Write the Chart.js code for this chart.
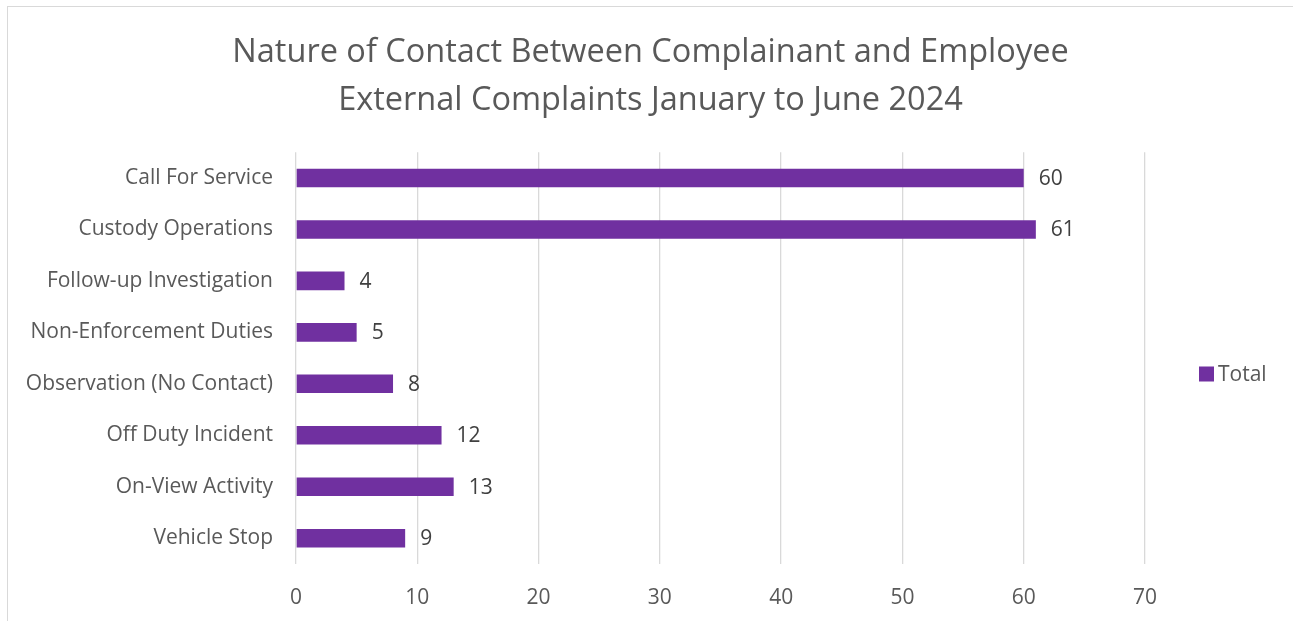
<!DOCTYPE html>
<html>
<head>
<meta charset="utf-8">
<script src="https://cdn.jsdelivr.net/npm/chart.js@4/dist/chart.umd.min.js"></script>
<style>
  html, body { margin: 0; padding: 0; background: #ffffff; overflow: hidden; }
  #wrap { position: relative; width: 1293px; height: 621px; }
  #frame { position: absolute; left: 7px; top: 6px; width: 1400px; height: 700px;
           border-left: 1px solid #d9d9d9; border-top: 1px solid #d9d9d9; box-sizing: border-box; }
  canvas { position: absolute; left: 0; top: 0; }
</style>
</head>
<body>
<div id="wrap">
  <div id="frame"></div>
  <canvas id="c" width="1293" height="621"></canvas>
</div>
<script>
const titleLines = ["Nature of Contact Between Complainant and Employee", "External Complaints January to June 2024"];
const categories = ["Call For Service", "Custody Operations", "Follow-up Investigation", "Non-Enforcement Duties",
                    "Observation (No Contact)", "Off Duty Incident", "On-View Activity", "Vehicle Stop"];
const totals = [60, 61, 4, 5, 8, 12, 13, 9];
const seriesName = "Total";
const xTicks = [0, 10, 20, 30, 40, 50, 60, 70];

const FONT = "'Open Sans', sans-serif";
const TEXT = "#595959";
const BAR = "#7030A0";

const dataLabels = {
  id: 'dataLabels',
  afterDatasetsDraw(chart) {
    const ctx = chart.ctx;
    const meta = chart.getDatasetMeta(0);
    ctx.save();
    ctx.font = "21px " + FONT;
    ctx.fillStyle = "#404040";
    ctx.textAlign = "left";
    ctx.textBaseline = "middle";
    meta.data.forEach((bar, i) => {
      ctx.fillText(String(chart.data.datasets[0].data[i]), bar.x + 15, bar.y + 1);
    });
    ctx.restore();
  }
};

const sideLegend = {
  id: 'sideLegend',
  afterDraw(chart) {
    const ctx = chart.ctx;
    const ds = chart.data.datasets[0];
    const x = chart.chartArea.right + 54;
    const y = 374;
    ctx.save();
    ctx.fillStyle = ds.backgroundColor;
    ctx.fillRect(x, y - 7.5, 15, 15);
    ctx.font = "21px " + FONT;
    ctx.fillStyle = TEXT;
    ctx.textAlign = "left";
    ctx.textBaseline = "middle";
    ctx.fillText(ds.label, x + 19, y + 1);
    ctx.restore();
  }
};

new Chart(document.getElementById('c'), {
  type: 'bar',
  data: {
    labels: categories,
    datasets: [{
      label: seriesName,
      data: totals,
      backgroundColor: BAR,
      borderWidth: 0,
      barPercentage: 0.36,
      categoryPercentage: 1.0
    }]
  },
  options: {
    indexAxis: 'y',
    responsive: false,
    animation: false,
    events: [],
    layout: { padding: { left: 8, right: 0, top: 29, bottom: 0 } },
    plugins: {
      legend: { display: false },
      tooltip: { enabled: false },
      title: {
        display: true,
        text: titleLines,
        color: TEXT,
        font: { family: FONT, size: 32.5, weight: 'normal', lineHeight: 1.48 },
        padding: { top: 0, bottom: 27 }
      }
    },
    scales: {
      x: {
        min: 0, max: 70,
        afterBuildTicks(scale) { scale.ticks = xTicks.map(v => ({ value: v })); },
        afterFit(scale) { scale.height = 57; },
        grid: { color: "#d9d9d9", lineWidth: 1.3, drawTicks: false },
        border: { display: false },
        ticks: { color: TEXT, font: { family: FONT, size: 21 }, padding: 21 }
      },
      y: {
        afterFit(scale) { scale.width = 288; },
        grid: { display: false, drawTicks: false },
        border: { display: false },
        ticks: { color: TEXT, font: { family: FONT, size: 21 }, padding: 23 }
      },
      legendSpace: {
        type: 'category',
        position: 'right',
        axis: 'y',
        labels: categories,
        afterFit(scale) { scale.width = 148; },
        grid: { display: false, drawTicks: false },
        border: { display: false },
        ticks: { display: false }
      }
    }
  },
  plugins: [dataLabels, sideLegend]
});
</script>
</body>
</html>
